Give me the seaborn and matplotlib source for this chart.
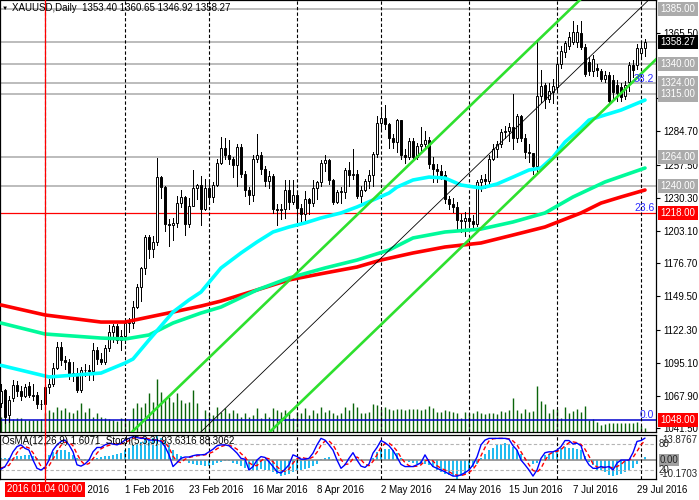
import numpy as np
import pandas as pd
import seaborn as sns
import matplotlib
matplotlib.use('Agg')
import matplotlib.pyplot as plt
import matplotlib.transforms as mtransforms
from matplotlib.lines import Line2D

sns.set_style('white')
plt.rcParams['font.family'] = ['Liberation Sans', 'DejaVu Sans']

# ---------------- data ----------------
# daily bars, no bar on 25 Dec, 1 Jan and Good Friday
dates = pd.bdate_range('2015-12-16', '2016-08-02')
dates = dates[~dates.isin(pd.to_datetime(['2015-12-25', '2016-01-01', '2016-03-25']))]
bars = np.arange(len(dates)) - 11   # bar 0 = 2016.01.04

open_ = ([1062, 1073, 1052, 1066, 1077, 1072, 1068, 1076, 1069, 1069, 1061]  # Dec
         + [1061, 1075, 1078, 1091, 1108, 1097, 1096, 1086, 1087, 1073, 1089, 1089, 1088, 1106, 1098, 1096, 1107, 1120, 1125, 1114]  # Jan
         + [1117, 1128, 1128, 1141, 1157, 1173, 1198, 1188, 1194, 1247, 1239, 1209, 1208, 1210, 1226, 1231, 1209, 1224, 1238, 1241, 1221]  # Feb
         + [1238, 1231, 1241, 1259, 1271, 1265, 1262, 1257, 1272, 1250, 1237, 1233, 1262, 1265, 1254, 1244, 1248, 1221, 1220, 1221, 1237, 1227]  # Mar
         + [1233, 1222, 1217, 1229, 1226, 1238, 1243, 1259, 1261, 1245, 1227, 1235, 1235, 1253, 1249, 1250, 1232, 1237, 1244, 1249, 1266]  # Apr
         + [1292, 1296, 1291, 1279, 1276, 1294, 1265, 1264, 1277, 1264, 1273, 1274, 1278, 1258, 1254, 1252, 1249, 1229, 1225, 1223, 1212, 1211]  # May
         + [1214, 1211, 1209, 1243, 1246, 1244, 1262, 1270, 1274, 1284, 1285, 1288, 1279, 1297, 1279, 1268, 1267, 1256, 1314, 1323, 1311, 1317]  # Jun
         + [1321, 1340, 1350, 1355, 1358, 1358, 1365, 1354, 1342, 1334, 1337, 1334, 1328, 1331, 1327, 1323, 1321, 1314, 1325, 1339, 1339, 1349, 1353.40])  # Jul-Aug
high = ([1078, 1074, 1068, 1081, 1080, 1076, 1078, 1079, 1078, 1071, 1065]
        + [1083, 1082, 1095, 1112, 1112, 1101, 1098, 1096, 1091, 1092, 1094, 1093, 1111, 1108, 1103, 1110, 1126, 1127, 1127, 1122]
        + [1131, 1132, 1146, 1160, 1174, 1200, 1200, 1199, 1263, 1248, 1240, 1213, 1214, 1232, 1237, 1232, 1230, 1253, 1242, 1248, 1246]
        + [1243, 1243, 1262, 1280, 1279, 1278, 1264, 1274, 1274, 1252, 1239, 1265, 1283, 1268, 1256, 1252, 1250, 1225, 1225, 1245, 1245, 1245]
        + [1235, 1225, 1236, 1230, 1245, 1244, 1261, 1265, 1262, 1246, 1237, 1239, 1255, 1260, 1270, 1253, 1240, 1246, 1253, 1268, 1297]
        + [1303, 1306, 1292, 1283, 1295, 1294, 1270, 1279, 1279, 1275, 1288, 1285, 1280, 1264, 1258, 1257, 1252, 1232, 1230, 1227, 1217, 1219]
        + [1221, 1216, 1245, 1249, 1250, 1265, 1274, 1277, 1287, 1289, 1292, 1315, 1299, 1298, 1283, 1274, 1267, 1358, 1335, 1324, 1324, 1328]
        + [1343, 1355, 1359, 1366, 1375, 1372, 1375, 1356, 1346, 1347, 1340, 1336, 1334, 1333, 1331, 1327, 1324, 1326, 1342, 1343, 1356, 1358, 1360.65])
low = ([1059, 1046, 1047, 1064, 1068, 1065, 1067, 1067, 1065, 1058, 1057]
       + [1060, 1070, 1076, 1090, 1093, 1090, 1082, 1080, 1071, 1071, 1084, 1081, 1081, 1094, 1094, 1094, 1105, 1112, 1111, 1106]
       + [1111, 1120, 1124, 1140, 1146, 1168, 1181, 1182, 1192, 1230, 1203, 1191, 1196, 1206, 1223, 1200, 1206, 1224, 1229, 1208, 1220]
       + [1225, 1227, 1240, 1258, 1262, 1258, 1247, 1240, 1247, 1232, 1225, 1228, 1260, 1250, 1240, 1238, 1218, 1208, 1213, 1214, 1221, 1225]
       + [1207, 1211, 1212, 1217, 1224, 1229, 1240, 1252, 1242, 1225, 1226, 1226, 1230, 1240, 1246, 1230, 1227, 1236, 1238, 1240, 1264]
       + [1286, 1287, 1271, 1271, 1268, 1262, 1259, 1262, 1263, 1262, 1269, 1272, 1255, 1243, 1243, 1246, 1226, 1221, 1219, 1205, 1202, 1199]
       + [1206, 1205, 1207, 1236, 1238, 1242, 1261, 1264, 1272, 1279, 1277, 1270, 1276, 1277, 1263, 1260, 1250, 1251, 1309, 1304, 1309, 1308]
       + [1318, 1337, 1346, 1352, 1356, 1354, 1352, 1330, 1331, 1330, 1330, 1326, 1325, 1308, 1312, 1310, 1310, 1311, 1318, 1329, 1336, 1344, 1346.92])
close = ([1072, 1051, 1065, 1077, 1072, 1068, 1075, 1069, 1068, 1061, 1061]
         + [1075, 1078, 1091, 1108, 1097, 1096, 1086, 1087, 1073, 1089, 1089, 1088, 1106, 1098, 1096, 1107, 1120, 1125, 1114, 1117]
         + [1128, 1128, 1141, 1157, 1173, 1198, 1188, 1194, 1247, 1239, 1209, 1208, 1210, 1226, 1231, 1209, 1224, 1238, 1241, 1221, 1238]
         + [1231, 1241, 1259, 1271, 1265, 1262, 1257, 1272, 1250, 1237, 1233, 1262, 1265, 1254, 1244, 1248, 1221, 1220, 1221, 1237, 1227, 1233]
         + [1222, 1217, 1229, 1226, 1238, 1243, 1259, 1261, 1245, 1227, 1235, 1235, 1253, 1249, 1250, 1232, 1237, 1244, 1249, 1266, 1292]
         + [1296, 1291, 1279, 1276, 1294, 1265, 1264, 1277, 1264, 1273, 1274, 1278, 1258, 1254, 1252, 1249, 1229, 1225, 1223, 1212, 1211, 1214]
         + [1211, 1209, 1243, 1246, 1244, 1262, 1270, 1274, 1284, 1285, 1288, 1279, 1297, 1279, 1268, 1267, 1256, 1314, 1322, 1311, 1318, 1322]
         + [1340, 1351, 1357, 1362, 1366, 1366, 1354, 1332, 1334, 1344, 1335, 1328, 1331, 1310, 1317, 1316, 1313, 1323, 1339, 1335, 1353, 1353.40, 1358.27])

# tick volume (thousands)
volume = [7.7, 6.8, 7.7, 6.3, 6.8, 6.8, 6.0, 6.0, 6.0, 6.0, 6.3,
          9.3, 11.0, 10.2, 12.7, 11.0, 11.8, 10.2, 9.3, 11.0, 14.7,
          10.2, 11.8, 7.7, 9.3, 7.7, 6.8, 6.3, 6.0, 5.7, 6.8,
          6.0, 6.0, 11.8, 14.3, 12.7, 14.3, 19.3, 15.2, 26.3, 20.2,
          16.0, 17.7, 15.2, 19.3, 16.0, 14.3, 15.2, 21.0, 14.3, 6.0,
          11.0, 9.3, 8.5, 12.7, 10.2, 11.8, 9.3, 11.0, 9.3, 7.7,
          9.3, 7.7, 8.5, 11.8, 6.8, 9.3, 7.7, 11.8, 11.0, 10.2,
          11.0, 9.3, 6.8, 10.2, 9.3, 11.8, 8.5, 11.0, 9.3, 12.7, 10.2, 11.0,
          9.3, 8.5, 9.7, 12.7, 11.0, 14.3, 12.3, 9.7, 9.3, 10.2,
          14.0, 13.5, 11.3, 12.3, 11.3, 11.0, 11.5, 11.3, 11.0, 11.3,
          11.5, 11.3, 11.0, 11.3, 13.0, 11.8, 10.2, 10.2, 11.0, 10.5,
          10.2, 9.7, 6.8, 10.2, 9.3, 9.7, 10.7, 9.7, 9.0, 9.7,
          9.3, 9.0, 10.7, 10.0, 11.0, 16.8, 11.0, 9.7, 11.3, 10.2,
          10.7, 23.0, 15.7, 14.0, 9.3, 11.3, 11.3, 6.8, 12.7, 9.3,
          10.7, 11.3, 10.2, 13.0, 6.0, 6.3, 5.2, 3.5, 3.8, 4.3,
          4.3, 4.3, 4.3, 4.3, 4.3, 4.7, 5.2, 3.0, 1.8]

# moving averages at sample bars
ma_fast_bar = [-11, 1, 14, 20, 22, 26, 32, 36, 39, 44, 49, 53, 57, 61, 65, 69, 74, 78, 82,
               86, 88, 92, 96, 100, 104, 109, 113, 117, 121, 124, 127, 130, 134, 136, 140, 144, 150]
ma_fast = [1093.0, 1083.5, 1086.7, 1094.9, 1098.2, 1113.8, 1136.7, 1146.6, 1153.1, 1172.8, 1185.1,
           1194.1, 1202.3, 1206.4, 1209.7, 1213.8, 1217.9, 1222.8, 1228.5, 1234.2, 1239.1, 1244.9,
           1247.3, 1246.5, 1240.8, 1238.3, 1241.6, 1247.3, 1253.1, 1254.7, 1263.7, 1276.0, 1287.5,
           1294.0, 1298.2, 1302.2, 1310.4]
ma_mid_bar = [-11, 0, 14, 20, 26, 32, 39, 44, 53, 61, 70, 78, 86, 92, 100, 109, 117, 125, 132, 140, 150]
ma_mid = [1127.7, 1118.7, 1115.4, 1114.6, 1117.9, 1127.7, 1135.9, 1140.8, 1154.8, 1164.6, 1172.8,
          1179.3, 1187.5, 1197.4, 1202.3, 1204.7, 1210.5, 1217.9, 1231.0, 1243.3, 1254.7]
ma_slow_bar = [-11, 0, 14, 20, 26, 32, 39, 44, 53, 61, 70, 78, 84, 92, 100, 109, 117, 125, 134, 139, 144, 150]
ma_slow = [1142.5, 1134.3, 1128.5, 1128.5, 1132.6, 1136.7, 1141.6, 1145.7, 1154.8, 1163.0, 1168.7,
           1173.6, 1179.3, 1185.1, 1190.0, 1193.3, 1199.8, 1206.4, 1217.9, 1226.0, 1231.0, 1236.7]

# equidistant channel, anchors at bar 20 and bar 153
chan_bar = [20, 153]
chan_upper = [1032.9, 1453.4]
chan_mid = [978.5, 1399.0]
chan_lower = [924.0, 1344.5]

gray_levels = [1385.00, 1358.27, 1340.00, 1324.00, 1315.00, 1264.00, 1240.00]
red_level = 1218.00
fib_levels = [1048.0, 1218.0, 1323.2]
fib_names = ['0.0', '23.6', '38.2']
price_ticks = [1041.5, 1067.9, 1095.1, 1122.3, 1149.5, 1176.7, 1203.1, 1230.3, 1257.5, 1284.7, 1311.9, 1365.5]

# OsMA(12,26,9) and Stochastic(5,3,3)
osma = [1.5, 1.5, 1.5, 1.5, 2.2, 2.2, 2.7, 2.7, 2.2, 1.5, 0.9,
        0.9, 2.7, 4.6, 5.5, 5.8, 5.5, 4.6, 2.7,
        1.5, 0.9, 0.9, 0.9, 1.5, 1.5, 1.8, 2.2, 2.2, 2.7,
        3.3, 4.0, 5.5, 6.9, 8.2, 9.1, 10.0, 10.9, 11.6, 12.4,
        13.88, 12.5, 10.4, 8.2, 5.5, 3.6, 2.2, 0.9, -1.5, -2.2,
        -2.5, -2.7, -3.1, -3.3, -2.7, -1.5, -0.9, -0.4, -0.5, -1.5,
        -2.2, -3.3, -4.0, -5.5, -5.8, -5.1, -4.7, -5.1, -5.5, -6.4,
        -7.3, -8.7, -8.2, -7.3, -6.4, -5.8, -5.5, -4.6, -4.2, -3.3,
        -1.8, 0.9, 1.5, 1.8,
        0.9, 0.0, -0.4, 0.0, 0.0, 0.4, 0.0, -0.4, 0.0, 0.4,
        1.5, 4.6, 5.8, 6.0, 6.0, 5.5, 4.0, 1.5, 0.4, -0.9,
        -1.5, -1.8, -2.2, -2.2, -2.7, -3.6, -5.1, -6.4, -7.3, -8.2,
        -8.7, -10.17, -8.7, -7.7, -5.5, -3.6, -2.2, 1.5, 3.6, 5.5,
        6.9, 8.2, 9.1, 9.5, 9.1, 7.3, 5.5, 3.3, 1.5, -0.4,
        -2.2, -1.5, 0.9, 2.7, 3.6, 4.6, 5.5, 6.9, 7.3, 6.9,
        6.7, 6.4, 5.5, 2.2, -0.9, -2.7, -5.1, -5.5, -6.4, -8.2,
        -8.7, -8.2, -7.7, -6.4, -5.5, -4.0, -1.8, 0.3, 1.6071]
stoch_main = [22, 28, 43, 62, 74, 78, 70, 66, 43, 24, 20, 26, 43, 66, 78, 86, 89, 78, 62, 32,
              29, 34, 43, 62, 72, 72, 78, 82, 80, 78, 82, 89, 93, 97, 95, 93, 93, 89, 89, 89,
              86, 74, 55, 28, 37, 47, 50, 50, 53, 55, 55, 56, 62, 68, 76, 78, 78, 76, 68, 59,
              47, 45, 20, 28, 43, 51, 49, 39, 28, 16, 13, 22, 32, 55, 51, 45, 45, 47, 59, 78,
              93, 89, 78,
              66, 43, 24, 32, 47, 60, 43, 29, 26, 34, 59, 72, 88, 83, 76, 65, 50, 33, 28, 28,
              28, 32, 37, 55, 39, 28, 24, 20, 16, 11, 6, 6, 9, 14, 20, 32, 50, 78, 89, 93,
              93, 93, 93, 93, 91, 76, 66, 43, 32, 20, 6, 20, 47, 60, 62, 62, 66, 74, 88, 88,
              80, 82, 76, 47, 32, 24, 24, 28, 26, 28, 20, 36, 43, 43, 43, 60, 86, 88, 93.63]
stoch_signal = [25, 27, 31, 44, 60, 71, 74, 71, 60, 44, 29, 23, 30, 45, 62, 77, 84, 84, 76, 57,
                41, 32, 35, 46, 59, 69, 74, 77, 80, 80, 80, 83, 88, 93, 95, 95, 94, 92, 90, 89,
                88, 83, 72, 52, 40, 37, 45, 49, 51, 53, 54, 55, 58, 62, 69, 74, 77, 77, 74, 68,
                58, 50, 37, 31, 30, 41, 48, 46, 39, 28, 19, 17, 22, 36, 46, 50, 47, 46, 50, 61,
                77, 87, 87,
                78, 62, 44, 33, 34, 46, 50, 44, 33, 30, 40, 55, 73, 81, 82, 75, 64, 49, 37, 30,
                28, 29, 32, 41, 44, 41, 30, 24, 20, 16, 11, 8, 7, 10, 14, 22, 34, 53, 72, 87,
                92, 93, 93, 93, 92, 87, 78, 62, 47, 32, 19, 15, 24, 42, 56, 61, 63, 67, 76, 83,
                85, 83, 79, 68, 52, 34, 27, 25, 26, 27, 25, 28, 33, 41, 43, 49, 63, 78, 88.31]

# ---------------- figure ----------------
W, H = 699, 500
fig = plt.figure(figsize=(W / 100, H / 100), dpi=100)
fig.patch.set_facecolor('white')

ax = fig.add_axes([0, 68 / H, 656 / W, 432 / H])
axv = ax.twinx()
ax.set_zorder(axv.get_zorder() + 1)
ax.patch.set_visible(False)

x0, x1 = -11.25, 152.75
ax.set_xlim(x0, x1)

# volume (bottom of main window)
axv.vlines(bars, 0, volume, color='#0a640a', lw=1.0)
axv.set_ylim(0, 216)
axv.set_yticks([])
for s in axv.spines.values():
    s.set_visible(False)

# horizontal levels
for lv in gray_levels:
    ax.axhline(lv, color='#A9A9A9', lw=1.1, zorder=2)
ax.axhline(red_level, color='#FF0000', lw=0.9, zorder=2)
ax.axhline(fib_levels[0], color='#0000CC', lw=1.1, zorder=2)

# month separators
month = dates.month.values
seps = bars[1:][month[1:] != month[:-1]]
for b in seps:
    ax.axvline(b, color='black', lw=0.8, ls=(0, (3, 2)), zorder=2)

# candles
o = np.array(open_); h = np.array(high); l = np.array(low); c = np.array(close)
up = c >= o
ax.vlines(bars, l, h, color='black', lw=0.7, zorder=4, antialiased=False)
ax.bar(bars, np.maximum(np.abs(c - o), 0.5), bottom=np.minimum(o, c), width=0.6,
       color=np.where(up, 'white', 'black'), edgecolor='black', linewidth=0.7, zorder=5)

# moving averages
sns.lineplot(x=ma_slow_bar, y=ma_slow, ax=ax, color='#FF0000', linewidth=2.6, zorder=6)
sns.lineplot(x=ma_mid_bar, y=ma_mid, ax=ax, color='#00FA9A', linewidth=2.6, zorder=6)
sns.lineplot(x=ma_fast_bar, y=ma_fast, ax=ax, color='#00FFFF', linewidth=2.6, zorder=6)

# channel
ax.plot(chan_bar, chan_upper, color='#2EE02E', lw=1.9, zorder=7)
ax.plot(chan_bar, chan_lower, color='#2EE02E', lw=1.9, zorder=7)
ax.plot(chan_bar, chan_mid, color='black', lw=0.6, zorder=7)

ax.set_xlim(x0, x1)
ax.set_ylim(1038.4, 1392.4)
ax.set_xticks([])
ax.yaxis.tick_right()
ax.set_yticks(price_ticks)
ax.set_yticklabels(['%.2f' % t for t in price_ticks])
ax.tick_params(axis='y', labelsize=7, length=3, pad=2, width=0.8, colors='black')
for s in ax.spines.values():
    s.set_color('black'); s.set_linewidth(0.9)

# fibonacci labels
yblend = mtransforms.blended_transform_factory(ax.transAxes, ax.transData)
for lv, nm in zip(fib_levels, fib_names):
    ax.text(1 - 1.5 / 656, lv, nm, transform=yblend, ha='right', va='bottom',
            fontsize=7.5, color='#2B2BFF', zorder=9)

# price boxes on the right scale
boxes = [(lv, '#ABABAB') for lv in [1385.00, 1340.00, 1324.00, 1315.00, 1264.00, 1240.00]]
boxes += [(1358.27, 'black'), (1218.00, '#FF0000'), (1048.00, '#FF0000')]
for lv, fc in boxes:
    ax.text(1 + 4.5 / 656, lv, '%.2f' % lv, transform=yblend, ha='left', va='center',
            fontsize=7, color='white', clip_on=False, zorder=20,
            bbox=dict(boxstyle='square,pad=0.22', fc=fc, ec='none'))

fig.text(2 / W, 1 - 8 / H, '\u25bc', fontsize=4.5, va='center', color='black')
fig.text(12 / W, 1 - 8 / H, 'XAUUSD,Daily  1353.40 1360.65 1346.92 1358.27',
         fontsize=7, va='center', color='black')

# ---------------- indicator window ----------------
axi = fig.add_axes([0, 21 / H, 656 / W, 44 / H])
axo = axi.twinx()
axi.set_zorder(axo.get_zorder() + 1)
axi.patch.set_visible(False)

axo.bar(bars, osma, width=0.7, color='#22BBF0', linewidth=0)
axo.axhline(0, color='#8C8C8C', lw=1.2, zorder=3)
axo.set_ylim(-10.1703, 13.8767)
axo.set_yticks([])
for s in axo.spines.values():
    s.set_visible(False)

axi.axhline(80, color='#B4B4B4', lw=0.8, ls=(0, (3, 2)))
axi.axhline(20, color='#B4B4B4', lw=0.8, ls=(0, (3, 2)))
sns.lineplot(x=bars, y=stoch_signal, ax=axi, color='#FF0000', linewidth=1.0,
             linestyle=(0, (3, 2)), zorder=5)
sns.lineplot(x=bars, y=stoch_main, ax=axi, color='#0000FF', linewidth=1.0, zorder=6)
for b in seps:
    axi.axvline(b, color='black', lw=0.8, ls=(0, (3, 2)), zorder=4)

axi.set_xlim(x0, x1)
axi.set_ylim(-0.7, 100.8)
axi.set_yticks([])
lab_bars = np.arange(4, 151, 16)
lab_text = ['%d %s' % (dates[b + 11].day, dates[b + 11].strftime('%b %Y')) for b in lab_bars]
axi.set_xticks(lab_bars)
axi.set_xticklabels(lab_text, ha='left', fontsize=7)
axi.tick_params(axis='x', length=2.5, pad=1.5, width=0.8, colors='black')
for s in axi.spines.values():
    s.set_color('black'); s.set_linewidth(0.9)

axi.text(2 / 656, 0.86, 'OsMA(12,26,9) 1.6071  Stoch(5,3,3) 93.6316 88.3062',
         transform=axi.transAxes, fontsize=7, va='center', color='black', zorder=10)

iblend = mtransforms.blended_transform_factory(axi.transAxes, axi.transData)
oblend = mtransforms.blended_transform_factory(axo.transAxes, axo.transData)
axo.text(1 + 6 / 656, 13.8767, '13.8767', transform=oblend, fontsize=7, va='top', clip_on=False)
axi.text(1 + 3 / 656, 80, '80', transform=iblend, fontsize=7, va='center', clip_on=False)
axi.text(1 + 3 / 656, 20, '20', transform=iblend, fontsize=7, va='center', clip_on=False)
axo.text(1 + 4 / 656, -10.1703, '-10.1703', transform=oblend, fontsize=7, va='bottom', clip_on=False)
axo.text(1 + 3.5 / 656, 0, '0.00', transform=oblend, fontsize=7, va='center', clip_on=False,
         bbox=dict(boxstyle='square,pad=0.1', fc='#A0A0A0', ec='none'))

# selected bar marker
d0 = dates[11]
axi.text(0, -0.23, d0.strftime('%Y.%m.%d %H:%M'),
         transform=mtransforms.blended_transform_factory(axi.transData, axi.transAxes),
         ha='center', va='center', fontsize=7, color='white', zorder=20, clip_on=False,
         bbox=dict(boxstyle='square,pad=0.25', fc='#FF0000', ec='none'))
xr = (0 - x0) / (x1 - x0) * 656 / W
fig.add_artist(Line2D([xr, xr], [(H - 482) / H, 1], color='#FF0000', lw=0.9))

fig.savefig('out.png', dpi=100)
